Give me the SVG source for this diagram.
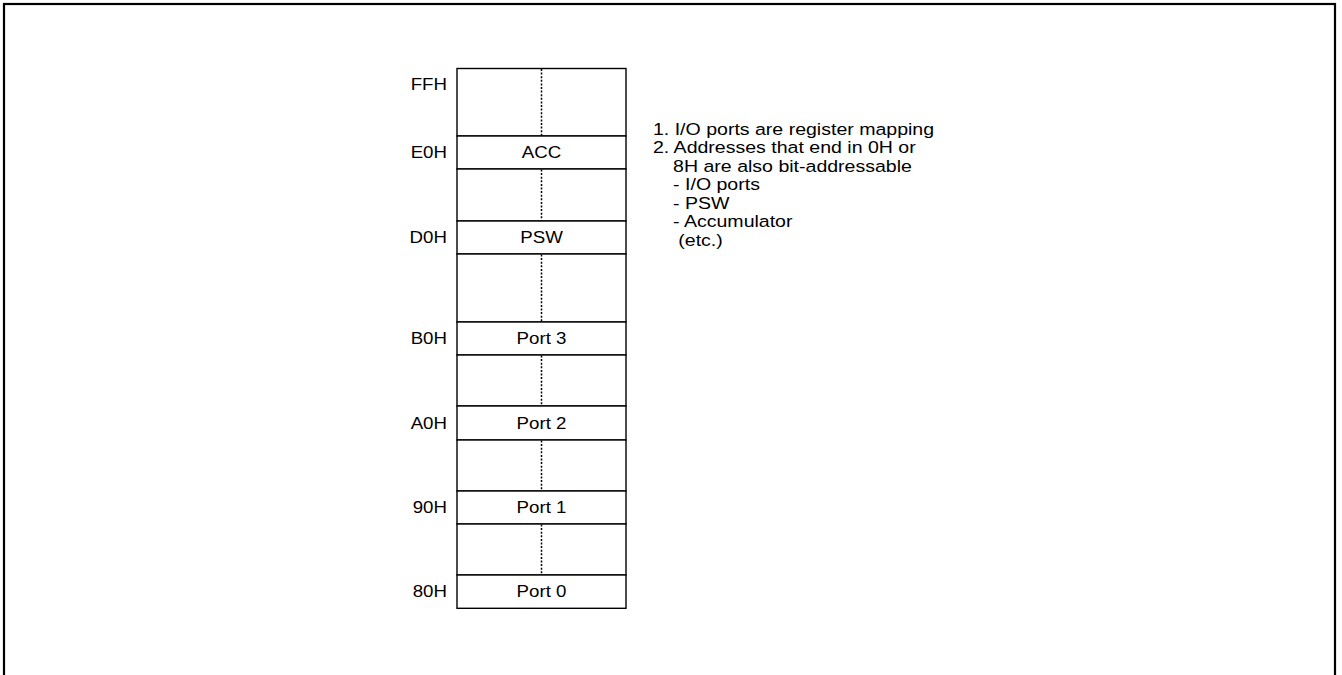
<svg xmlns="http://www.w3.org/2000/svg" width="1342" height="675" viewBox="0 0 1342 675">
<style>
.t{font-family:"Liberation Sans",Arial,sans-serif;font-size:17px;fill:#000}
.m{text-anchor:middle}
.r{text-anchor:end}
.cell{fill:#fff;stroke:#000;stroke-width:1.4}
.dot{stroke:#000;stroke-width:1.5;stroke-dasharray:2 1.6;fill:none}
</style>
<rect x="4" y="4" width="1331" height="720" fill="none" stroke="#000" stroke-width="2.2"/>
<g id="map">
<g id="row-ff"><rect class="cell" x="457" y="68.5" width="169" height="67.5"/><line class="dot" x1="541.5" y1="69" x2="541.5" y2="135.5"/></g>
<g id="acc"><rect class="cell" x="457" y="136" width="169" height="33"/><text class="t m" x="541.5" y="158.5" transform="translate(541.5 0) scale(1.1 1) translate(-541.5 0)">ACC</text></g>
<g id="row-d"><rect class="cell" x="457" y="169" width="169" height="52"/><line class="dot" x1="541.5" y1="169.5" x2="541.5" y2="220.5"/></g>
<g id="psw"><rect class="cell" x="457" y="221" width="169" height="33"/><text class="t m" x="541.5" y="243.5" transform="translate(541.5 0) scale(1.1 1) translate(-541.5 0)">PSW</text></g>
<g id="row-c"><rect class="cell" x="457" y="254" width="169" height="68"/><line class="dot" x1="541.5" y1="254.5" x2="541.5" y2="321.5"/></g>
<g id="port3"><rect class="cell" x="457" y="322" width="169" height="33"/><text class="t m" x="541.5" y="344.5" transform="translate(541.5 0) scale(1.1 1) translate(-541.5 0)">Port 3</text></g>
<g id="row-b"><rect class="cell" x="457" y="355" width="169" height="51"/><line class="dot" x1="541.5" y1="355.5" x2="541.5" y2="405.5"/></g>
<g id="port2"><rect class="cell" x="457" y="406" width="169" height="34"/><text class="t m" x="541.5" y="429" transform="translate(541.5 0) scale(1.1 1) translate(-541.5 0)">Port 2</text></g>
<g id="row-a"><rect class="cell" x="457" y="440" width="169" height="51"/><line class="dot" x1="541.5" y1="440.5" x2="541.5" y2="490.5"/></g>
<g id="port1"><rect class="cell" x="457" y="491" width="169" height="33"/><text class="t m" x="541.5" y="513.5" transform="translate(541.5 0) scale(1.1 1) translate(-541.5 0)">Port 1</text></g>
<g id="row-9"><rect class="cell" x="457" y="524" width="169" height="51"/><line class="dot" x1="541.5" y1="524.5" x2="541.5" y2="574.5"/></g>
<g id="port0"><rect class="cell" x="457" y="575" width="169" height="33.3"/><text class="t m" x="541.5" y="597.5" transform="translate(541.5 0) scale(1.1 1) translate(-541.5 0)">Port 0</text></g>
</g>
<g id="addresses" transform="translate(447 0) scale(1.1 1) translate(-447 0)">
<text class="t r" x="447" y="90.5">FFH</text>
<text class="t r" x="447" y="158.5">E0H</text>
<text class="t r" x="447" y="243.5">D0H</text>
<text class="t r" x="447" y="344.5">B0H</text>
<text class="t r" x="447" y="429">A0H</text>
<text class="t r" x="447" y="513.5">90H</text>
<text class="t r" x="447" y="597.5">80H</text>
</g>
<g id="notes" transform="translate(653 0) scale(1.15 1) translate(-653 0)">
<text class="t" x="653" y="135">1. I/O ports are register mapping</text>
<text class="t" x="653" y="153.5">2. Addresses that end in 0H or</text>
<text class="t" x="670.5" y="172">8H are also bit-addressable</text>
<text class="t" x="670.5" y="190.5">- I/O ports</text>
<text class="t" x="670.5" y="209">- PSW</text>
<text class="t" x="670.5" y="227.5">- Accumulator</text>
<text class="t" x="675" y="246">(etc.)</text>
</g>
<g id="connectors"/>
</svg>
